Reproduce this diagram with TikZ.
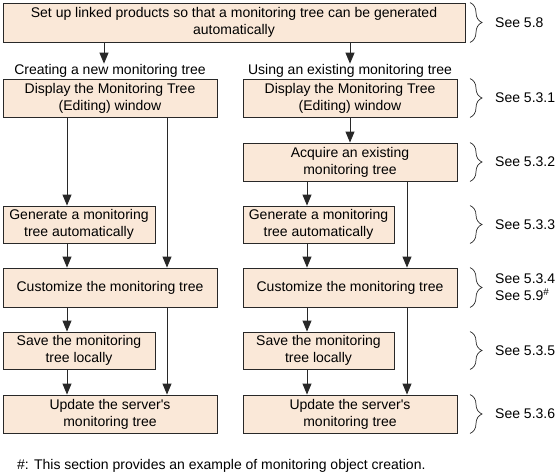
\documentclass[tikz,border=0pt]{standalone}
\usepackage{fontspec}
\setmainfont{Liberation Sans}
\usetikzlibrary{arrows.meta,decorations.pathreplacing}
\definecolor{boxfill}{RGB}{250,232,216}
\definecolor{lineclr}{RGB}{40,40,40}
\begin{document}
\begin{tikzpicture}[x=1pt,y=-1pt,
  every node/.style={font=\fontsize{14}{17}\selectfont},
  stepbox/.style={draw=lineclr,fill=boxfill,line width=0.9pt,rectangle,align=center,inner sep=0pt},
  arr/.style={draw=lineclr,line width=0.9pt,-{Triangle[length=11pt,width=9pt]}},
  brc/.style={draw=lineclr,line width=0.7pt,decorate,decoration={brace,amplitude=12pt}},
  seetxt/.style={anchor=west,align=left,inner sep=0pt}]
\useasboundingbox (0,0) rectangle (559,475);
% boxes
\node[stepbox,minimum width=462pt,minimum height=39pt] (top) at (234,22.5) {Set up linked products so that a monitoring tree can be generated\\automatically};
\node[stepbox,minimum width=214pt,minimum height=38pt] (L1) at (110,98) {Display the Monitoring Tree\\(Editing) window};
\node[stepbox,minimum width=214pt,minimum height=38pt] (R1) at (350,98) {Display the Monitoring Tree\\(Editing) window};
\node[stepbox,minimum width=214pt,minimum height=38pt] (R2) at (350,162) {Acquire an existing\\monitoring tree};
\node[stepbox,minimum width=152pt,minimum height=37pt] (LG) at (79,224.5) {Generate a monitoring\\tree automatically};
\node[stepbox,minimum width=151pt,minimum height=37pt] (RG) at (318.5,224.5) {Generate a monitoring\\tree automatically};
\node[stepbox,minimum width=214pt,minimum height=39pt] (LC) at (110,287.5) {Customize the monitoring tree};
\node[stepbox,minimum width=214pt,minimum height=39pt] (RC) at (350,287.5) {Customize the monitoring tree};
\node[stepbox,minimum width=152pt,minimum height=37pt] (LS) at (79,350.5) {Save the monitoring\\tree locally};
\node[stepbox,minimum width=151pt,minimum height=37pt] (RS) at (318.5,350.5) {Save the monitoring\\tree locally};
\node[stepbox,minimum width=214pt,minimum height=38pt] (LU) at (110,414) {Update the server\textquotesingle s\\monitoring tree};
\node[stepbox,minimum width=214pt,minimum height=38pt] (RU) at (350,414) {Update the server\textquotesingle s\\monitoring tree};
% column titles
\node[anchor=base,inner sep=0pt] (ltitle) at (110,74) {Creating a new monitoring tree};
\node[anchor=base,inner sep=0pt] (rtitle) at (350,74) {Using an existing monitoring tree};
% x positions
\coordinate (xa) at (104,0);
\coordinate (xl1) at (67,0);
\coordinate (xl2) at (167,0);
\coordinate (xr1) at (307,0);
\coordinate (xr2) at (407,0);
\coordinate (bx) at (470,0);
% connectors
\draw[arr] (top.south -| xa) -- (ltitle.north -| xa);
\draw[arr] (top.south -| R1) -- (rtitle.north -| R1);
\draw[arr] (L1.south -| xl1) -- (LG.north -| xl1);
\draw[arr] (L1.south -| xl2) -- (LC.north -| xl2);
\draw[arr] (LG.south -| xl1) -- (LC.north -| xl1);
\draw[arr] (LC.south -| xl1) -- (LS.north -| xl1);
\draw[arr] (LS.south -| xl1) -- (LU.north -| xl1);
\draw[arr] (LC.south -| xl2) -- (LU.north -| xl2);
\draw[arr] (R1.south) -- (R2.north);
\draw[arr] (R2.south -| xr1) -- (RG.north -| xr1);
\draw[arr] (R2.south -| xr2) -- (RC.north -| xr2);
\draw[arr] (RG.south -| xr1) -- (RC.north -| xr1);
\draw[arr] (RC.south -| xr1) -- (RS.north -| xr1);
\draw[arr] (RS.south -| xr1) -- (RU.north -| xr1);
\draw[arr] (RC.south -| xr2) -- (RU.north -| xr2);
% braces
\draw[brc] (top.north -| bx) -- (top.south -| bx);
\draw[brc] (R1.north -| bx) -- (R1.south -| bx);
\draw[brc] (R2.north -| bx) -- (R2.south -| bx);
\draw[brc] (RG.north -| bx) -- (RG.south -| bx);
\draw[brc] (RC.north -| bx) -- (RC.south -| bx);
\draw[brc] (RS.north -| bx) -- (RS.south -| bx);
\draw[brc] (RU.north -| bx) -- (RU.south -| bx);
% see labels
\node[seetxt] (s0) at (495,22.5) {See 5.8};
\node[seetxt] (s1) at (495,98) {See 5.3.1};
\node[seetxt] (s2) at (495,162) {See 5.3.2};
\node[seetxt] (s3) at (495,224.5) {See 5.3.3};
\node[seetxt] (s4) at (495,287.5) {See 5.3.4\\See 5.9\textsuperscript{\#}};
\node[seetxt] (s5) at (495,350.5) {See 5.3.5};
\node[seetxt] (s6) at (495,414) {See 5.3.6};
% footnote
\node[anchor=base west,inner sep=0pt] (foot) at (17,469) {\#: This section provides an example of monitoring object creation.};
\end{tikzpicture}
\end{document}
